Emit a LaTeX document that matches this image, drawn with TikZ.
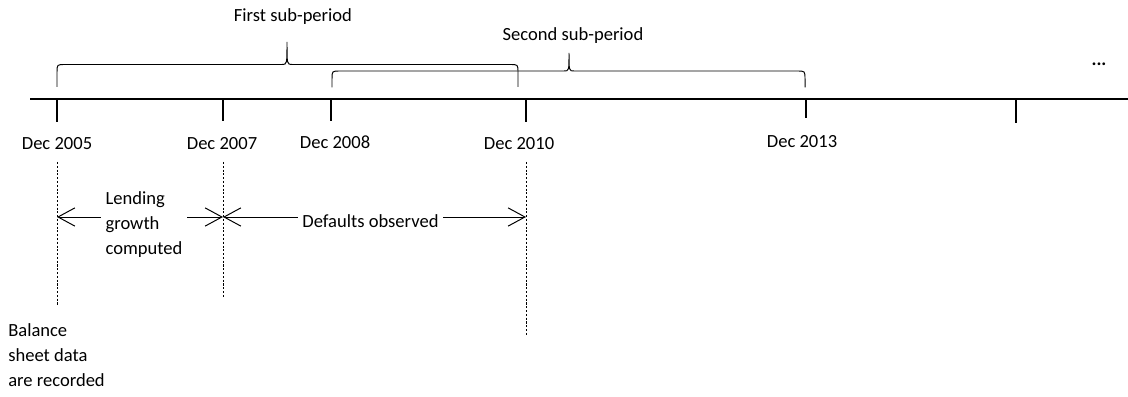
\documentclass[tikz,border=0pt]{standalone}
\usepackage{fontspec}
\setmainfont{Carlito}
\usetikzlibrary{arrows.meta}

\begin{document}
\begin{tikzpicture}[font={\fontsize{13.2}{17.8}\selectfont},
  axis/.style={line width=1.4pt},
  tick/.style={line width=1.4pt},
  brc/.style={line width=0.7pt},
  guide/.style={line width=0.6pt, dash pattern=on 1.5pt off 1.2pt},
  span/.style={line width=0.7pt, {Straight Barb[length=12pt,width=13pt]}-{Straight Barb[length=12pt,width=13pt]}},
  gap/.style={fill=white, inner xsep=3.5pt, inner ysep=2pt}]
\useasboundingbox (0,0) rectangle (28.2,9.9);

% time axis and ticks
\draw[axis] (0.75,7.42) -- (28.2,7.42);
\draw[tick] (1.425,7.42) -- (1.425,6.85);
\draw[tick] (5.575,7.42) -- (5.575,6.875);
\draw[tick] (8.275,7.42) -- (8.275,6.875);
\draw[tick] (13.15,7.42) -- (13.15,6.85);
\draw[tick] (20.15,7.42) -- (20.15,6.95);
\draw[tick] (25.4,7.42) -- (25.4,6.825);

\node (l05) at (1.425,6.3) {Dec 2005};
\node (l07) at (5.55,6.3) {Dec 2007};
\node (l08) at (8.375,6.35) {Dec 2008};
\node (l10) at (12.975,6.3) {Dec 2010};
\node (l13) at (20.05,6.35) {Dec 2013};
\node[font={\fontsize{13.2}{17.8}\selectfont\bfseries}] (more) at (27.475,8.3) {...};

% sub-periods
\draw[brc] (1.425,7.725) -- (1.425,8.0875) .. controls (1.425,8.2875) .. (1.625,8.2875)
  -- (7.05,8.2875) .. controls (7.175,8.2875) .. (7.175,8.85)
  .. controls (7.175,8.2875) .. (7.3,8.2875) -- (12.75,8.2875)
  .. controls (12.95,8.2875) .. (12.95,8.0875) -- (12.95,7.725);
\draw[brc] (8.3,7.7125) -- (8.3,7.925) .. controls (8.3,8.125) .. (8.5,8.125)
  -- (14.1,8.125) .. controls (14.225,8.125) .. (14.225,8.575)
  .. controls (14.225,8.125) .. (14.35,8.125) -- (19.925,8.125)
  .. controls (20.125,8.125) .. (20.125,7.925) -- (20.125,7.7125);
\node (sub1) at (7.325,9.475) {First sub-period};
\node (sub2) at (14.325,9.0) {Second sub-period};

% guides
\draw[guide] (1.425,5.85) -- (1.425,2.275);
\draw[guide] (5.575,5.85) -- (5.575,2.45);
\draw[guide] (13.15,5.85) -- (13.15,1.525);
\coordinate (a05) at (1.425,4.475);
\coordinate (a07) at (5.575,4.475);
\coordinate (a10) at (13.15,4.475);

\draw[span] (a05) -- node[gap, align=left, yshift=-0.2cm, xshift=0.1cm] (lend) {Lending\\growth\\computed} (a07);
\draw[span] (a07) -- node[gap, yshift=-0.1cm, xshift=-0.1cm] (dflt) {Defaults observed} (a10);

\node[anchor=west, align=left, inner sep=0pt] (bal) at (0.2,1.025) {Balance\\sheet data\\are recorded};
\end{tikzpicture}
\end{document}
